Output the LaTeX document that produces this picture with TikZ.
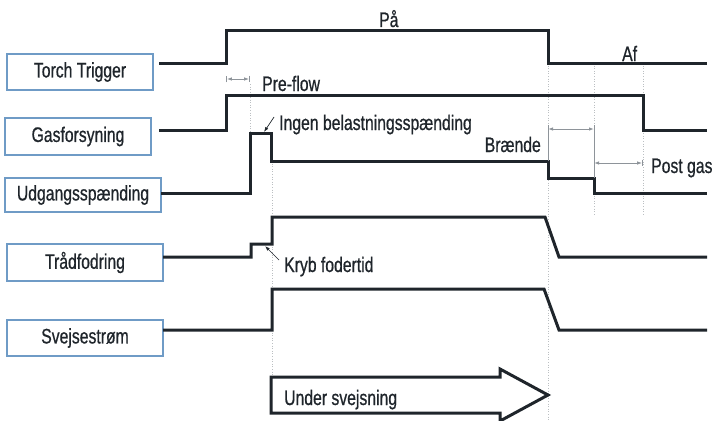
\documentclass[tikz,border=0pt]{standalone}
\usepackage{fontspec}
\setmainfont[FakeStretch=0.75, FakeBold=0.7]{Liberation Sans}
\usepackage{xcolor}
\usepackage{tikz}
\usetikzlibrary{arrows.meta}
\usetikzlibrary{positioning}
\definecolor{boxblue}{HTML}{6F9BC6}
\definecolor{ink}{HTML}{1F252B}
\definecolor{dimgray}{HTML}{8E949A}
\tikzset{>={Latex[length=5pt, width=3.5pt]}}
\tikzstyle{lbl} = [rectangle, draw=boxblue, line width=2.6pt, minimum height=36pt, inner sep=0pt, text=ink, font=\fontsize{21}{24}\selectfont]
\tikzstyle{txt} = [draw=none, inner sep=0pt, text=ink, font=\fontsize{21}{24}\selectfont]
\tikzstyle{sig} = [-, draw=ink, line width=3pt, line join=miter]
\tikzstyle{dimln} = [draw=dimgray, line width=0.9pt]
\tikzstyle{guide} = [draw=dimgray!60, line width=0.6pt, dotted]
\tikzstyle{lead} = [-{Latex[length=5pt, width=3.5pt]}, draw=ink, line width=0.7pt]

\begin{document}
\begin{tikzpicture}[x=1pt, y=-1pt]
\useasboundingbox (0,0) rectangle (714,420);
% signal names
\node [lbl, minimum width=146pt] (TT) at (80, 72) {Torch Trigger};
\node [lbl, minimum width=146pt, minimum height=37pt] (GF) at (78, 136.5) {Gasforsyning};
\node [lbl, minimum width=156pt, minimum height=34pt] (US) at (83, 195) {Udgangsspænding};
\node [lbl, minimum width=156pt, minimum height=37pt] (TF) at (85, 262.5) {Trådfodring};
\node [lbl, minimum width=156pt] (SS) at (85, 338) {Svejsestrøm};

% guide lines
\draw [guide] (250, 84) -- (250, 133);
\draw [guide] (272, 161) -- (272, 376);
\draw [guide] (548, 63) -- (548, 420);
\draw [guide] (594, 63) -- (594, 215);
\draw [guide] (643, 63) -- (643, 215);

% waveforms
\draw [sig] (159, 63) -- (226, 63) -- (226, 31) -- (548, 31) -- (548, 63) -- (707, 63);
\draw [sig] (159, 130) -- (226, 130) -- (226, 95) -- (643, 95) -- (643, 130) -- (707, 130);
\draw [sig] (161, 193) -- (250, 193) -- (250, 133) -- (271, 133) -- (271, 161) -- (548, 161) -- (548, 178) -- (594, 178) -- (594, 193) -- (707, 193);
\draw [sig] (163, 257) -- (251, 257) -- (251, 244) -- (272, 244) -- (272, 217) -- (545, 217) -- (559, 257) -- (707, 257);
\draw [sig] (163, 330) -- (272, 330) -- (272, 289) -- (544, 289) -- (559, 330) -- (707, 330);

% timing marks
\coordinate (pf0) at (226, 79);
\coordinate (pf1) at (250, 79);
\draw [dimln, |<->|] (pf0) -- (pf1);
\coordinate (br0) at (548, 129);
\coordinate (br1) at (594, 129);
\draw [dimln] (548, 125) -- (548, 161);
\draw [dimln] (594, 125) -- (594, 178);
\draw [dimln, <->] (br0) -- (br1);
\coordinate (pg0) at (594, 163);
\coordinate (pg1) at (643, 163);
\draw [dimln, <->|] (pg0) -- (pg1);

% texts
\node [txt, anchor=base west] (paa) at (379, 27) {På};
\node [txt, anchor=base west] (af) at (622, 61) {Af};
\node [txt, anchor=base west] (pre) at (262, 91) {Pre-flow};
\node [txt, anchor=base west] (ingen) at (279, 130) {Ingen belastningsspænding};
\node [txt, anchor=base east] (braende) at (541, 152) {Brænde};
\node [txt, anchor=base west] (post) at (651, 173) {Post gas};
\node [txt, anchor=base west] (kryb) at (284, 272) {Kryb fodertid};

% leaders
\coordinate (ib0) at (274, 117);
\coordinate (ib1) at (264, 132);
\draw [lead] (ib0) -- (ib1);
\coordinate (kf0) at (279, 260);
\coordinate (kf1) at (265, 246);
\draw [lead] (kf0) -- (kf1);

% under svejsning
\draw [sig] (271, 377) -- (500, 377) -- (500, 369) -- (548, 395) -- (500, 421) -- (500, 413) -- (271, 413) -- cycle;
\node [txt, anchor=base west] (uw) at (284, 405) {Under svejsning};
\end{tikzpicture}
\end{document}
